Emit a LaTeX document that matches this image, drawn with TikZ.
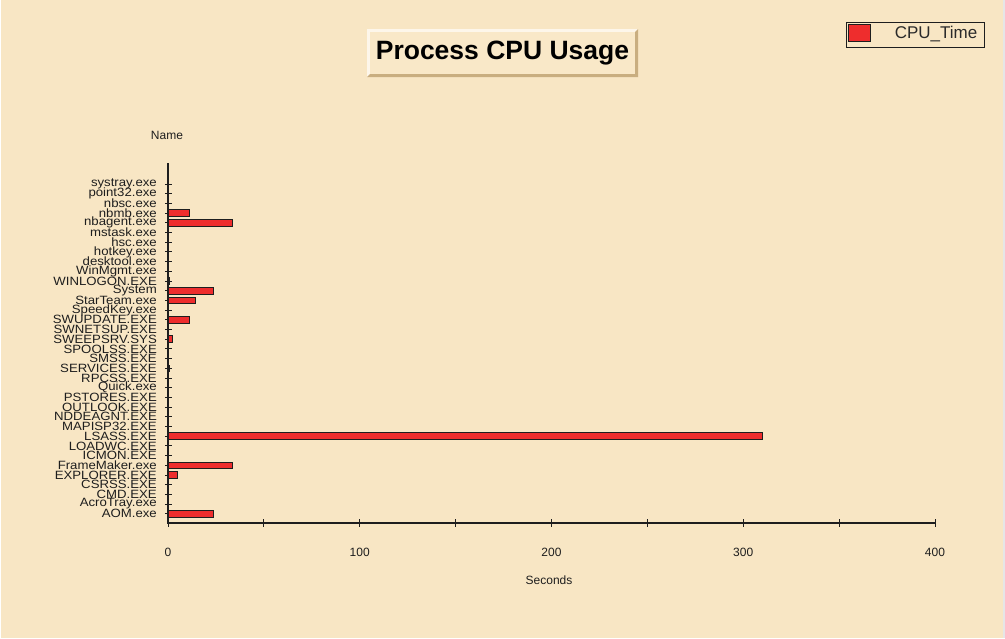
\documentclass[tikz,border=0pt]{standalone}
\usepackage{fontspec}
\setmainfont{Liberation Sans}
\newfontfamily\namefont[FakeStretch=1.1]{Liberation Sans}
\definecolor{bg}{HTML}{F8E6C4}
\definecolor{titlefill}{HTML}{F9E8C8}
\definecolor{bevellight}{HTML}{FDF6EA}
\definecolor{beveldark}{HTML}{C9AE80}
\definecolor{edgegray}{HTML}{E6E6E6}
\definecolor{barred}{HTML}{EE2D2D}
\definecolor{inkdark}{HTML}{1E1E1E}
\definecolor{legendtext}{HTML}{2A2A2A}
\tikzset{
  axisline/.style={draw=inkdark, line width=1.1pt},
  tickline/.style={draw=inkdark, line width=0.9pt},
  barbox/.style={draw=inkdark, line width=1pt, fill=barred},
  namelabel/.style={anchor=east, inner sep=0pt, text=inkdark, font=\namefont\fontsize{12}{12}\selectfont},
  axlabel/.style={inner sep=0pt, text=inkdark, font=\fontsize{12}{12}\selectfont},
}
\begin{document}
\begin{tikzpicture}[x=1pt, y=-1pt]
\useasboundingbox (0,0) rectangle (1005,638);
% page background with its thin frame strips
\fill[white] (0,0) rectangle (1005,638);
\fill[bg] (1,0) rectangle (1003,638);
\fill[edgegray] (1003,0) rectangle (1005,638);

% bevelled title panel
\fill[bevellight] (367,29) -- (638,29) -- (635,32) -- (370,32) -- (370,74) -- (367,77) -- cycle;
\fill[beveldark] (638,29) -- (638,77) -- (367,77) -- (370,74) -- (635,74) -- (635,32) -- cycle;
\fill[titlefill] (370,32) rectangle (635,74);
\node[inner sep=0pt, text=black, font=\fontsize{26.5}{26.5}\selectfont\bfseries] (title) at (502.5,53) {Process CPU Usage};

% legend
\draw[draw=inkdark, line width=0.9pt] (846,22) rectangle (984,47);
\draw[barbox] (848.5,24.5) rectangle (870.5,41.5);
\node[inner sep=0pt, text=legendtext, font=\fontsize{17}{17}\selectfont] (legend) at (936,34) {CPU\_Time};

% axes
\coordinate (top) at (168,163);
\coordinate (origin) at (168,523);
\coordinate (xend) at (935,523);
\draw[axisline] (top) -- (origin) -- (xend);

% x ticks every 50 s, labels every 100 s
\foreach \v in {0,50,...,400} {
  \draw[tickline] ({168+\v*1.9175},519) -- ({168+\v*1.9175},527);
}
\foreach \v in {0,100,200,300,400} {
  \node[axlabel] (x\v) at ({168+\v*1.9175},552) {\v};
}
\node[axlabel] (xtitle) at (549,580) {Seconds};
\node[axlabel] (ytitle) at (167,135) {Name};

% process categories with their CPU time
\foreach \name/\val [count=\i from 0] in {
  systray.exe/0, point32.exe/0, nbsc.exe/0, nbmb.exe/11, nbagent.exe/33.5,
  mstask.exe/0, hsc.exe/0, hotkey.exe/0, desktool.exe/0, WinMgmt.exe/0,
  WINLOGON.EXE/0.6, System/23.5, StarTeam.exe/14.6, SpeedKey.exe/0,
  SWUPDATE.EXE/11, SWNETSUP.EXE/0, SWEEPSRV.SYS/2.6, SPOOLSS.EXE/0,
  SMSS.EXE/0, SERVICES.EXE/0.6, RPCSS.EXE/0, Quick.exe/0, PSTORES.EXE/0,
  OUTLOOK.EXE/0, NDDEAGNT.EXE/0, MAPISP32.EXE/0, LSASS.EXE/310,
  LOADWC.EXE/0, ICMON.EXE/0, FrameMaker.exe/33.5, EXPLORER.EXE/4.7,
  CSRSS.EXE/0, CMD.EXE/0, AcroTray.exe/0, AOM.exe/23.5} {
  \pgfmathsetmacro{\yy}{184+\i*9.7}
  \draw[tickline] (165,\yy) -- (172,\yy);
  \node[namelabel] (p\i) at (157,\yy) {\name};
  \ifdim \val pt > 0pt
    \draw[barbox] (168,\yy-3.3) rectangle ({168+\val*1.9175},\yy+3.3);
  \fi
}
\end{tikzpicture}
\end{document}
